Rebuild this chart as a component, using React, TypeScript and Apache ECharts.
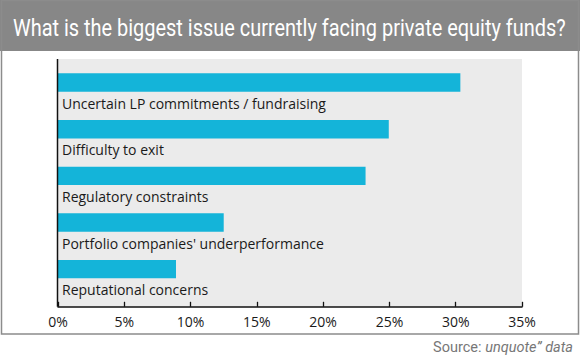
import React, { useEffect, useRef } from "react";
import * as echarts from "echarts";

const titleText = "What is the biggest issue currently facing private equity funds?";
const categories = [
  "Uncertain LP commitments / fundraising",
  "Difficulty to exit",
  "Regulatory constraints",
  "Portfolio companies' underperformance",
  "Reputational concerns",
];
const values = [30.35, 24.95, 23.2, 12.5, 8.9];
const xTicks = { min: 0, max: 35, interval: 5 };

const COND = "Roboto, sans-serif";

function measure(text: string, font: string): number {
  const c = document.createElement("canvas");
  const ctx = c.getContext("2d");
  if (!ctx) return 0;
  ctx.font = font;
  return ctx.measureText(text).width;
}

export default function App() {
  const ref = useRef<HTMLDivElement>(null);
  useEffect(() => {
    if (!ref.current) return;
    const chart = echarts.init(ref.current, undefined, { renderer: "svg" });
    const tw = measure(titleText, "23px Roboto");
    const titleScale = tw > 0 ? 553 / tw : 0.85;
    const sw = measure("Source: ", "15px Roboto") + measure("unquote” data", "italic 15px Roboto");
    const srcScale = sw > 0 ? 140 / sw : 0.85;
    chart.setOption({
      animation: false,
      backgroundColor: "#ffffff",
      grid: { left: 58, top: 59.2, width: 464, height: 233.3, containLabel: false },
      xAxis: {
        type: "value",
        min: xTicks.min,
        max: xTicks.max,
        interval: xTicks.interval,
        offset: 14.3,
        axisLine: { show: true, lineStyle: { color: "#111", width: 1.5 } },
        axisTick: { show: true, inside: true, length: 5, lineStyle: { color: "#111", width: 1.3 } },
        splitLine: { show: false },
        axisLabel: {
          formatter: "{value}%",
          color: "#1a1a1a",
          fontSize: 14,
          fontFamily: '"Open Sans", sans-serif',
          margin: 8,
        },
      },
      yAxis: {
        type: "category",
        inverse: true,
        data: categories,
        axisLine: { show: false },
        axisTick: { show: false },
        axisLabel: { show: false },
        splitLine: { show: false },
      },
      series: [
        {
          type: "bar",
          data: values,
          barWidth: 18.4,
          itemStyle: { color: "#14b4d9" },
          label: {
            show: true,
            formatter: "{b}",
            position: [4, 30],
            align: "left",
            verticalAlign: "middle",
            color: "#1a1a1a",
            fontSize: 14,
            fontFamily: '"Open Sans", sans-serif',
          },
          z: 3,
        },
      ],
      graphic: [
        { type: "rect", z: -20, silent: true, shape: { x: 0, y: 0, width: 580, height: 51 }, style: { fill: "#878787" } },
        { type: "rect", z: -19, silent: true, shape: { x: 1.5, y: 0.5, width: 577, height: 333.5 }, style: { fill: "none", stroke: "#8c8c8c", lineWidth: 1.5 } },
        { type: "rect", z: -18, silent: true, shape: { x: 58, y: 59, width: 464, height: 247.7 }, style: { fill: "#ebebeb" } },
        { type: "line", z: 5, silent: true, shape: { x1: 57.5, y1: 59, x2: 57.5, y2: 306.7 }, style: { stroke: "#111", lineWidth: 1.5 } },
        {
          type: "text",
          z: 5,
          x: 13,
          y: 28,
          scaleX: titleScale,
          style: { text: titleText, fill: "#ffffff", fontSize: 23, fontFamily: COND, verticalAlign: "middle", align: "left" },
        },
        {
          type: "text",
          z: 5,
          x: 573,
          y: 347,
          scaleX: srcScale,
          style: {
            text: "{n|Source: }{i|unquote” data}",
            align: "right",
            verticalAlign: "middle",
            rich: {
              n: { fill: "#777777", fontSize: 15, fontFamily: COND },
              i: { fill: "#777777", fontSize: 15, fontStyle: "italic", fontFamily: COND },
            },
          },
        },
      ],
    });
    return () => chart.dispose();
  }, []);
  return <div ref={ref} style={{ position: "fixed", left: 0, top: 0, width: 580, height: 358 }} />;
}
